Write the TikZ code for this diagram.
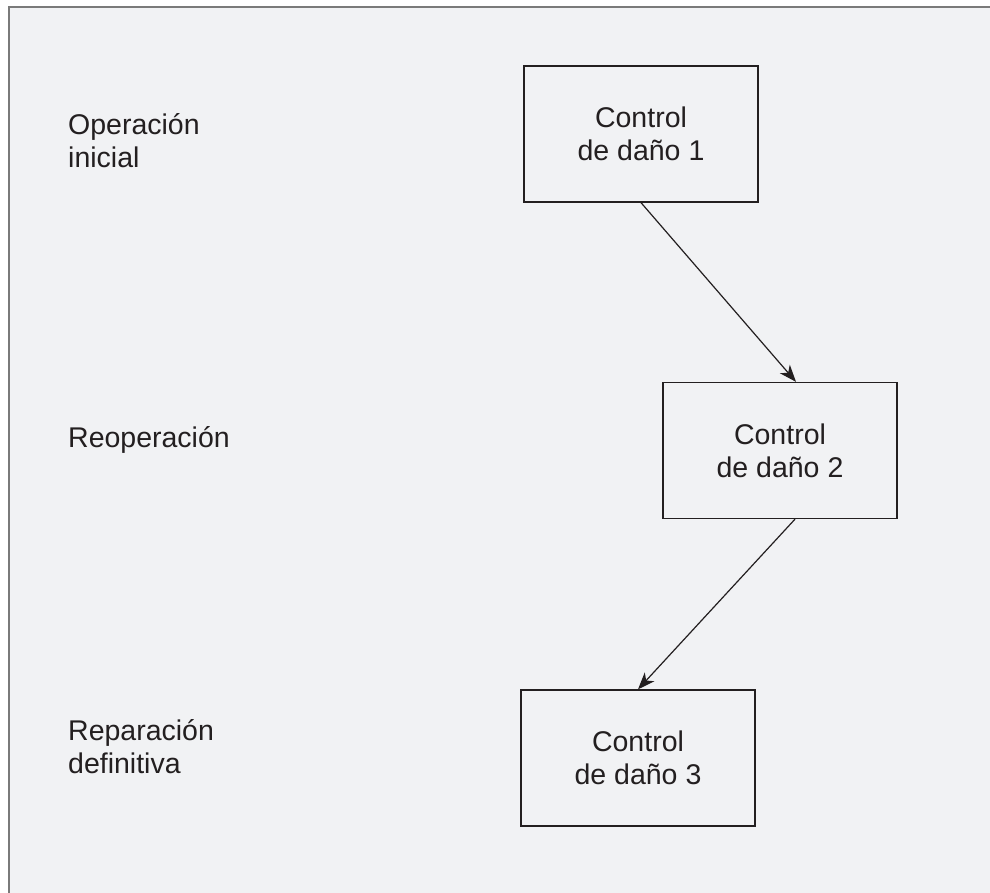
\documentclass[tikz,border=0pt]{standalone}
\usepackage{fontspec}
\setmainfont{Liberation Sans}
\usetikzlibrary{arrows.meta}
\definecolor{bgc}{HTML}{F1F2F4}
\definecolor{ink}{HTML}{231F20}
\definecolor{framec}{HTML}{7A7A7A}
\tikzset{
  boxnode/.style={draw=ink, line width=1.3pt, minimum width=234pt, minimum height=136pt,
    align=center, text=ink, font=\fontsize{28.5}{33}\selectfont, inner sep=0pt},
  sidelabel/.style={anchor=base west, align=left, text=ink, font=\fontsize{28.5}{33}\selectfont, inner sep=0pt},
  conn/.style={draw=ink, line width=1.2pt, -{Stealth[length=17pt,width=13pt,inset=5pt]}}
}
\begin{document}
\begin{tikzpicture}[x=1pt,y=-1pt]
\useasboundingbox (0,0) rectangle (990,893);
\fill[white] (0,0) rectangle (990,893);
\fill[bgc] (9,7) rectangle (990,893);
\draw[framec, line width=1.5pt] (9,893) -- (9,7) -- (990,7);
\node[boxnode] (b1) at (641,134) {Control\\de daño 1};
\node[boxnode] (b2) at (780,450.5) {Control\\de daño 2};
\node[boxnode] (b3) at (638,758) {Control\\de daño 3};
\node[sidelabel] (l1) at (68,168) {Operación\\inicial};
\node[sidelabel] (l2) at (68,447) {Reoperación};
\node[sidelabel] (l3) at (68,773) {Reparación\\definitiva};
\draw[conn] (b1.south) -- ([xshift=16pt]b2.north);
\draw[conn] ([xshift=15pt]b2.south) -- (b3.north);
\end{tikzpicture}
\end{document}
